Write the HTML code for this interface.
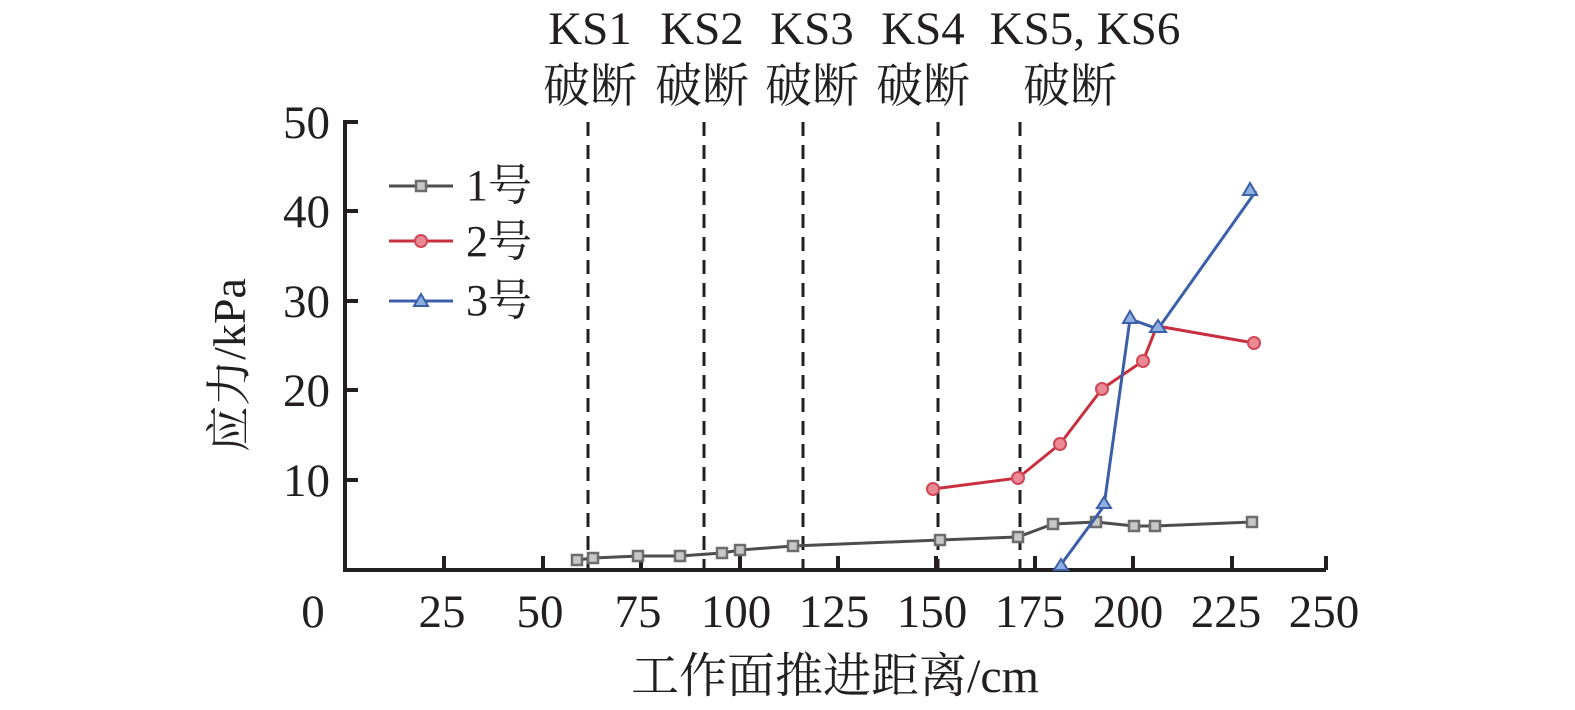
<!DOCTYPE html><html><head><meta charset="utf-8"><style>body{margin:0;background:#fff}svg{display:block}text{font-family:"Liberation Serif","Noto Serif CJK SC",serif;fill:#231f20}</style></head><body>
<svg width="1575" height="710" viewBox="0 0 1575 710">
<g font-size="47" text-anchor="middle">
<text x="590" y="44">KS1</text><text x="590" y="102">破断</text>
<text x="702" y="44">KS2</text><text x="702" y="102">破断</text>
<text x="812" y="44">KS3</text><text x="812" y="102">破断</text>
<text x="923" y="44">KS4</text><text x="923" y="102">破断</text>
<text x="1085" y="44">KS5, KS6</text><text x="1070" y="102">破断</text>
</g>
<g stroke="#231f20" stroke-width="3" stroke-dasharray="14,9">
<line x1="588" y1="122" x2="588" y2="570"/><line x1="704" y1="122" x2="704" y2="570"/><line x1="803" y1="122" x2="803" y2="570"/><line x1="938" y1="122" x2="938" y2="570"/><line x1="1020" y1="122" x2="1020" y2="570"/>
</g>
<g stroke="#231f20" stroke-width="4" fill="none">
<polyline points="345,120 345,570 1326,570"/>
<path d="M345,122h13M345,211h13M345,301h13M345,390h13M345,480h13M444,570v-14M543,570v-14M641,570v-14M740,570v-14M838,570v-14M936,570v-14M1035,570v-14M1133,570v-14M1232,570v-14M1326,570v-14"/>
</g>
<g font-size="47">
<g text-anchor="end"><text x="330" y="138">50</text><text x="330" y="227">40</text><text x="330" y="317">30</text><text x="330" y="406">20</text><text x="330" y="496">10</text></g>
<g text-anchor="middle"><text x="313" y="627">0</text><text x="442" y="627">25</text><text x="540" y="627">50</text><text x="638" y="627">75</text><text x="736" y="627">100</text><text x="834" y="627">125</text><text x="932" y="627">150</text><text x="1030" y="627">175</text><text x="1128" y="627">200</text><text x="1226" y="627">225</text><text x="1324" y="627">250</text></g>
<text x="835" y="692" text-anchor="middle" font-size="48">工作面推进距离/cm</text>
<text transform="translate(245,365) rotate(-90)" text-anchor="middle" font-size="46">应力/kPa</text>
<text x="466" y="200" font-size="44">1号</text><text x="466" y="256" font-size="44">2号</text><text x="466" y="315" font-size="44">3号</text>
</g>
<g stroke="#4d4d4f" stroke-width="3" fill="none"><polyline points="577,560 593,558 638,556 680,556 722,553 740,550 793,546 940,540 1018,537 1053,524 1096,522 1134,526 1155,526 1252,522"/><line x1="389" y1="186" x2="453" y2="186"/></g>
<g fill="#c8c8c8" stroke="#6d6d6d" stroke-width="2.5">
<rect x="572" y="555" width="10" height="10"/><rect x="588" y="553" width="10" height="10"/><rect x="633" y="551" width="10" height="10"/><rect x="675" y="551" width="10" height="10"/><rect x="717" y="548" width="10" height="10"/><rect x="735" y="545" width="10" height="10"/><rect x="788" y="541" width="10" height="10"/><rect x="935" y="535" width="10" height="10"/><rect x="1013" y="532" width="10" height="10"/><rect x="1048" y="519" width="10" height="10"/><rect x="1091" y="517" width="10" height="10"/><rect x="1129" y="521" width="10" height="10"/><rect x="1150" y="521" width="10" height="10"/><rect x="1247" y="517" width="10" height="10"/><rect x="416" y="181" width="10" height="10"/></g>
<g stroke="#c8303f" stroke-width="3" fill="none"><polyline points="933,489 1018,478 1060,444 1102,389 1143,361 1157,326 1254,343"/><line x1="389" y1="241" x2="453" y2="241"/></g>
<g fill="#eb8a95" stroke="#d04858" stroke-width="2"><circle cx="933" cy="489" r="6"/><circle cx="1018" cy="478" r="6"/><circle cx="1060" cy="444" r="6"/><circle cx="1102" cy="389" r="6"/><circle cx="1143" cy="361" r="6"/><circle cx="1254" cy="343" r="6"/><circle cx="421" cy="241" r="6"/></g>
<g stroke="#3b5fa8" stroke-width="3" fill="none"><polyline points="1057,570 1104,506 1130,319 1158,329 1256,191"/><line x1="389" y1="301" x2="453" y2="301"/></g>
<g fill="#8fb0e0" stroke="#3b5fa8" stroke-width="2"><path d="M1061,559l7,11h-14z"/><path d="M1104,497l7,11h-14z"/><path d="M1130,311l7,12h-14z"/><path d="M1158,320l8,12h-16z"/><path d="M1250,183l7,12h-14z"/><path d="M421,294l7,12h-14z"/></g>
</svg></body></html>
